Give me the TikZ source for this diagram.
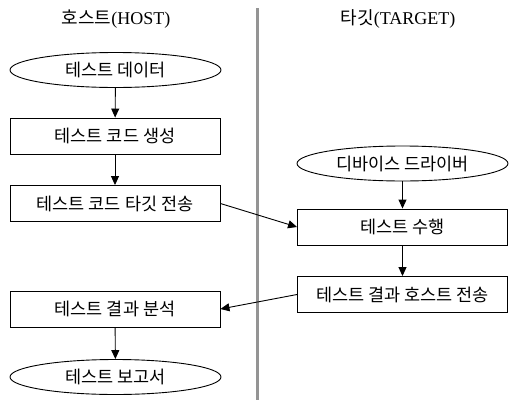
\documentclass[tikz,border=0pt]{standalone}
\usepackage{fontspec}
\setmainfont{Liberation Serif}
\newfontfamily\kr{Noto Sans CJK KR}
\usetikzlibrary{shapes.geometric,arrows.meta}
\begin{document}
\begin{tikzpicture}[x=1pt,y=-1pt,
  box/.style={draw,line width=0.9pt,minimum width=210pt,minimum height=36pt,inner sep=0pt,font=\kr\fontsize{17.5}{19}\selectfont},
  oval/.style={draw,ellipse,line width=0.9pt,minimum width=211pt,minimum height=35pt,inner sep=0pt,font=\kr\fontsize{17.5}{19}\selectfont},
  title/.style={font=\fontsize{18}{20}\selectfont},
  arr/.style={line width=0.9pt,-{Triangle[length=9pt,width=8pt]}}]
\useasboundingbox (0,0) rectangle (509,402);
\draw[line width=3pt,color=black!42] (257,8) -- (257,400);
\node[title] (th) at (116,19) {{\kr 호스트}(HOST)};
\node[title] (tt) at (398,19) {{\kr 타깃}(TARGET)};
\node[oval] (a) at (115.5,70) {테스트 데이터};
\node[box] (b) at (115,136) {테스트 코드 생성};
\node[box] (c) at (115,203.5) {테스트 코드 타깃 전송};
\node[oval] (d) at (402.5,163.5) {디바이스 드라이버};
\node[box] (e) at (402.5,227) {테스트 수행};
\node[box] (f) at (402.5,294.5) {테스트 결과 호스트 전송};
\node[box] (g) at (115,309) {테스트 결과 분석};
\node[oval] (h) at (115.5,377) {테스트 보고서};
\draw[arr] (a) -- (b);
\draw[arr] (b) -- (c);
\draw[arr] (c.east) -- (e.west);
\draw[arr] (d) -- (e);
\draw[arr] (e) -- (f);
\draw[arr] (f.west) -- (g.east);
\draw[arr] (g) -- (h);
\end{tikzpicture}
\end{document}
